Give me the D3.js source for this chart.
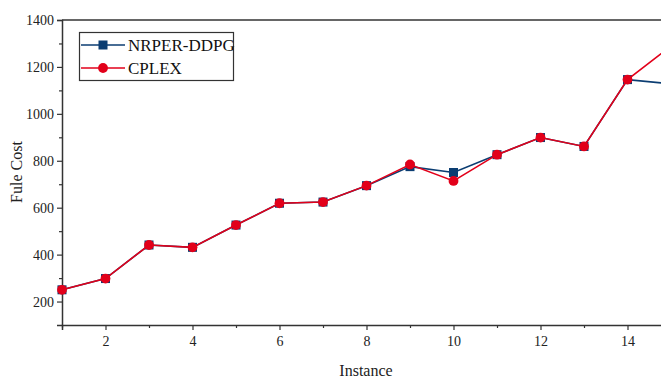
<!DOCTYPE html>
<html lang="en">
<head>
<meta charset="UTF-8">
<title>Fule Cost</title>
<script src="https://d3js.org/d3.v7.min.js"></script>
<style>
  body { margin: 0; background: #fff; }
  svg { display: block; font-family: "Liberation Serif", "DejaVu Serif", serif; }
</style>
</head>
<body>
<div id="chart"></div>
<script>
// data
const instances = [1, 2, 3, 4, 5, 6, 7, 8, 9, 10, 11, 12, 13, 14, 15];
const nrper = [250, 298, 441, 431, 526, 619, 624, 694, 775, 750, 826, 899, 861, 1146, 1128];
const cplex = [250, 298, 441, 431, 526, 619, 624, 694, 784, 714, 826, 899, 861, 1146, 1289];
const xTicks = [2, 4, 6, 8, 10, 12, 14];
const yTicks = [200, 400, 600, 800, 1000, 1200, 1400];

const width = 661, height = 379;
const mLeft = 62, mTop = 20, mBottom = 325;

const svg = d3.select("#chart").append("svg")
  .attr("width", width)
  .attr("height", height);

const x = d3.scaleLinear().domain([1, 15]).range([mLeft, mLeft + 14 * 43.5]);
const y = d3.scaleLinear().domain([100, 1400]).range([mBottom, mTop]);

const axisColor = "#333";

// top frame line
svg.append("line")
  .attr("x1", mLeft).attr("x2", width)
  .attr("y1", mTop).attr("y2", mTop)
  .attr("stroke", axisColor).attr("stroke-width", 1.5);

// y axis
svg.append("g")
  .attr("transform", `translate(${mLeft},0)`)
  .call(d3.axisLeft(y).tickValues(yTicks).tickFormat(d3.format("d")).tickSize(5).tickPadding(3));
svg.append("g")
  .attr("transform", `translate(${mLeft},0)`)
  .call(d3.axisLeft(y).tickValues(d3.range(300, 1400, 200)).tickSize(3).tickFormat(""))
  .call(g => g.select(".domain").remove());

// x axis
svg.append("g")
  .attr("transform", `translate(0,${mBottom})`)
  .call(d3.axisBottom(x).tickValues(xTicks).tickFormat(d3.format("d")).tickSize(5).tickPadding(6));
svg.append("g")
  .attr("transform", `translate(0,${mBottom})`)
  .call(d3.axisBottom(x).tickValues([1, 3, 5, 7, 9, 11, 13, 15]).tickSize(3).tickFormat(""))
  .call(g => g.select(".domain").remove());

svg.selectAll(".domain").attr("stroke", axisColor).attr("stroke-width", 1.5);
svg.selectAll(".tick line").attr("stroke", axisColor).attr("stroke-width", 1.2);
svg.selectAll(".tick text")
  .attr("fill", "#222")
  .style("font-family", "'Liberation Serif', serif")
  .style("font-size", "14px");

// axis titles
svg.append("text")
  .attr("x", 366).attr("y", 376)
  .attr("text-anchor", "middle")
  .attr("fill", "#222")
  .style("font-size", "16px")
  .text("Instance");
svg.append("text")
  .attr("transform", "translate(22,172) rotate(-90)")
  .attr("text-anchor", "middle")
  .attr("fill", "#222")
  .style("font-size", "16px")
  .text("Fule Cost");

// series
const blue = "#0b3d72";
const red = "#e2001a";

svg.append("clipPath").attr("id", "clip")
  .append("rect").attr("x", 0).attr("y", 0).attr("width", width).attr("height", mBottom);

const line = d3.line().x((d, i) => x(instances[i])).y(d => y(d));

const plot = svg.append("g").attr("clip-path", "url(#clip)");

plot.append("path")
  .datum(nrper)
  .attr("d", line)
  .attr("fill", "none")
  .attr("stroke", blue)
  .attr("stroke-width", 1.6);
plot.selectAll(".sq")
  .data(nrper)
  .enter().append("rect")
  .attr("class", "sq")
  .attr("x", (d, i) => x(instances[i]) - 4.5)
  .attr("y", d => y(d) - 4.5)
  .attr("width", 9).attr("height", 9)
  .attr("fill", blue);

plot.append("path")
  .datum(cplex)
  .attr("d", line)
  .attr("fill", "none")
  .attr("stroke", red)
  .attr("stroke-width", 1.6);
plot.selectAll(".dot")
  .data(cplex)
  .enter().append("circle")
  .attr("class", "dot")
  .attr("cx", (d, i) => x(instances[i]))
  .attr("cy", d => y(d))
  .attr("r", 4.9)
  .attr("fill", red);

// legend
const legend = svg.append("g");
legend.append("rect")
  .attr("x", 79.5).attr("y", 32.5)
  .attr("width", 154).attr("height", 48)
  .attr("fill", "#fff")
  .attr("stroke", axisColor).attr("stroke-width", 1.2);

const items = [
  { name: "NRPER-DDPG", color: blue, shape: "square" },
  { name: "CPLEX", color: red, shape: "circle" }
];
items.forEach((it, i) => {
  const cy = 45 + i * 23;
  legend.append("line")
    .attr("x1", 81).attr("x2", 125)
    .attr("y1", cy).attr("y2", cy)
    .attr("stroke", it.color).attr("stroke-width", 1.6);
  if (it.shape === "square") {
    legend.append("rect")
      .attr("x", 98.5).attr("y", cy - 4.5)
      .attr("width", 9).attr("height", 9)
      .attr("fill", it.color);
  } else {
    legend.append("circle")
      .attr("cx", 103).attr("cy", cy).attr("r", 4.9)
      .attr("fill", it.color);
  }
  legend.append("text")
    .attr("x", 128).attr("y", cy + 6)
    .attr("fill", "#111")
    .style("font-size", "17px")
    .text(it.name);
});
</script>
</body>
</html>
